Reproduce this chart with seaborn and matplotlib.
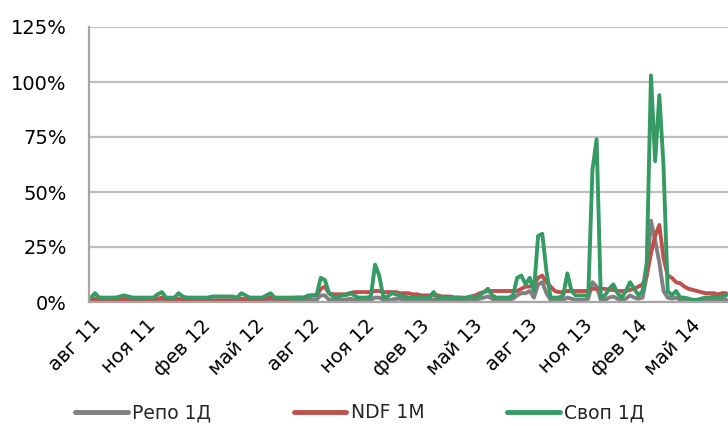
import numpy as np
import pandas as pd
import matplotlib
matplotlib.use("Agg")
import matplotlib.pyplot as plt
import matplotlib.dates as mdates
import seaborn as sns

# ---- data (weekly, % units) ----
start_date = "2011-07-20"
n_weeks = 153

repo_1d = [
    0.5, 1, 0.5, 0.5, 0.5, 0.5, 0.5, 0.5, 1, 0.5,
    0.5, 0.5, 0.5, 0.5, 0.5, 0.5, 1, 1, 0.5, 0.5,
    0.5, 1, 0.5, 0.5, 0.5, 0.5, 0.5, 0.5, 0.5, 0.5,
    0.5, 0.5, 0.5, 0.5, 0.5, 0.5, 1, 0.8, 0.5, 0.5,
    0.5, 0.5, 1, 1, 0.5, 0.5, 0.5, 0.5, 0.5, 0.5,
    0.5, 0.5, 1, 1, 1, 3, 3, 1, 1, 0.5,
    1, 1, 1.5, 1, 1, 1, 1, 1, 2, 2,
    1, 1, 1, 1.5, 1.5, 1, 1, 1, 1, 1,
    1, 1, 1, 1, 1, 1, 1, 1, 0.5, 0.5,
    0.5, 1, 1, 1.5, 2, 2.5, 1.5, 1, 1, 1,
    1, 1.5, 3, 4, 4, 5, 2, 8, 9, 4,
    1, 1, 1, 1, 2, 1.5, 1, 1, 1, 1.5,
    9, 7, 1, 1, 2, 2.5, 1.5, 1, 1.5, 3,
    2, 1.5, 2, 12, 37, 28, 18, 5, 2, 1.5,
    2, 1, 1, 1, 0.5, 0.5, 1, 1, 1, 1,
    1, 1, 1,
]

ndf_1m = [
    1, 1.5, 1, 1, 1, 1, 1, 1, 1.5, 1,
    1, 1, 1, 1, 1, 1, 1.5, 2, 1, 1,
    1, 1.5, 1, 1, 1, 0.8, 0.8, 0.8, 0.8, 0.8,
    0.8, 0.8, 0.8, 0.8, 0.8, 0.8, 1.5, 1.2, 1, 1,
    1, 1, 1.5, 2, 1.5, 1.5, 1.5, 1.5, 1.5, 2,
    2, 2, 2.5, 3, 3, 6, 7, 4, 3.5, 3.5,
    3.5, 3.5, 4, 4.5, 4.5, 4.5, 4.5, 4.5, 5, 5,
    4.5, 4.5, 4.5, 4.5, 4, 4, 4, 3.5, 3.5, 3,
    3, 3, 3, 3, 2.5, 2.5, 2.5, 2, 2, 2,
    2, 2.5, 3, 4, 4.5, 5, 5, 5, 5, 5,
    5, 5, 5, 6, 7, 7, 8, 11, 12, 9,
    7, 5, 4.5, 4.5, 5, 5, 5, 5, 5, 5,
    6, 6, 6, 6, 5.5, 5.5, 5, 5, 5, 5.5,
    6, 7, 8, 12, 22, 30, 35, 20, 12, 11,
    9, 8.5, 7, 6, 5.5, 5, 4.5, 4, 4, 4,
    3.5, 4, 4,
]

swap_1d = [
    2, 4, 2, 2, 2, 2, 2, 2.5, 3, 2.5,
    2, 2, 2, 2, 2, 2, 3.5, 4.5, 2, 2,
    2, 4, 2.5, 2, 2, 2, 2, 2, 2, 2.5,
    2.5, 2.5, 2.5, 2.5, 2.5, 2, 4, 3, 2, 2,
    2, 2, 3, 4, 2, 2, 2, 2, 2, 2,
    2, 2, 3, 3, 3, 11, 10, 4, 2.5, 2,
    3, 3, 4, 3, 2, 2, 2, 2.5, 17, 12,
    2, 2.5, 4, 3.5, 3, 2.5, 2, 2, 2, 2,
    2, 2, 4.5, 2, 2, 2, 2, 2, 2, 1.5,
    2, 2.5, 2, 3, 4.5, 6, 3, 2, 2, 2,
    2, 3, 11, 12, 8, 11, 5, 30, 31, 14,
    2, 2, 2, 3, 13, 5, 3, 3, 3, 3,
    60, 74, 2, 3, 6, 8, 4, 2, 5, 9,
    6, 3, 5, 18, 103, 64, 94, 62, 5, 3,
    5, 2, 2, 1.5, 1, 1, 1.5, 2, 2, 2.5,
    2, 2.5, 3,
]

series_names = ["Репо 1Д", "NDF 1M", "Своп 1Д"]
series_colors = ["#808080", "#c0504d", "#359a64"]
y_ticks = [0, 25, 50, 75, 100, 125]
x_tick_months = ["2011-08-01", "2011-11-01", "2012-02-01", "2012-05-01",
                 "2012-08-01", "2012-11-01", "2013-02-01", "2013-05-01",
                 "2013-08-01", "2013-11-01", "2014-02-01", "2014-05-01"]
x_tick_labels = ["авг 11", "ноя 11", "фев 12", "май 12", "авг 12", "ноя 12",
                 "фев 13", "май 13", "авг 13", "ноя 13", "фев 14", "май 14"]

dates = pd.date_range(start_date, periods=n_weeks, freq="7D")
df = pd.concat([
    pd.DataFrame({"date": dates, "value": vals, "series": name})
    for name, vals in zip(series_names, [repo_1d, ndf_1m, swap_1d])
], ignore_index=True)

sns.set_theme(style="white")
plt.rcParams["font.family"] = ["DejaVu Sans"]

fig = plt.figure(figsize=(7.28, 4.26), dpi=100)
ax = fig.add_axes([89 / 728, 1 - 302 / 426, 1 - 89 / 728, (302 - 27) / 426])

sns.lineplot(data=df, x="date", y="value", hue="series", hue_order=series_names,
             palette=series_colors, linewidth=2.8, ax=ax, legend=False,
             estimator=None, sort=False)
for ln in ax.get_lines():
    ln.set_solid_joinstyle("round")
    ln.set_solid_capstyle("round")

ax.set_ylim(0, 125)
ax.set_xlim(pd.Timestamp("2011-07-17"), pd.Timestamp("2014-06-21"))
ax.set_yticks(y_ticks)
ax.set_yticklabels([f"{v}%" for v in y_ticks])
ax.yaxis.grid(True, color="#bfbfbf", linewidth=1.6)
ax.xaxis.grid(False)
ax.set_axisbelow(True)

ax.set_xticks([mdates.date2num(pd.Timestamp(d)) for d in x_tick_months])
ax.set_xticklabels(x_tick_labels, rotation=45, ha="right", va="center",
                   rotation_mode="anchor")
ax.tick_params(axis="x", length=0, pad=15, labelsize=14, colors="#000000")
ax.tick_params(axis="y", length=4, width=1.5, color="#a6a6a6", pad=12,
               labelsize=14, labelcolor="#000000")
for s in ["top", "right"]:
    ax.spines[s].set_visible(False)
ax.spines["left"].set_color("#a6a6a6")
ax.spines["left"].set_linewidth(1.6)
ax.spines["bottom"].set_color("#a6a6a6")
ax.spines["bottom"].set_linewidth(1.6)
ax.set_xlabel("")
ax.set_ylabel("")

handles = [plt.Line2D([], [], color=c, linewidth=3.5) for c in series_colors]
ax.legend(handles, series_names, loc="center", bbox_to_anchor=(0.4945, 0.031),
          bbox_transform=fig.transFigure, ncol=3, frameon=False,
          handlelength=2.8, columnspacing=4.4, handletextpad=0.25,
          fontsize=13.5)

fig.savefig("out.png", dpi=100)
